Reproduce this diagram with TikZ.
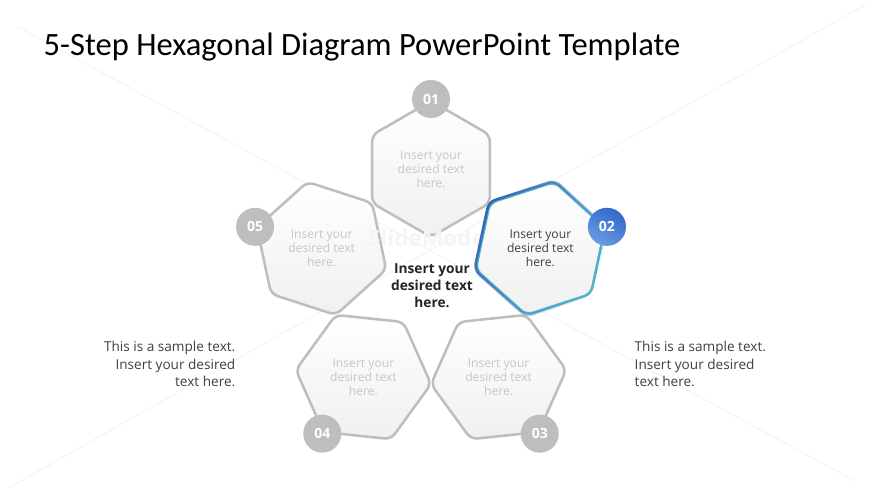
\documentclass[tikz,border=0pt]{standalone}
\usepackage{fontspec}
\setmainfont{Open Sans}
\newfontfamily\titlefont{Carlito}
\usetikzlibrary{positioning,shapes.geometric,fadings}

\definecolor{hexline}{HTML}{BEBEBE}
\definecolor{hextext}{HTML}{C6C6C6}
\definecolor{darktext}{HTML}{404040}
\definecolor{stepblue}{HTML}{3460B4}
\definecolor{stepteal}{HTML}{4FB4CC}
\definecolor{numblue}{HTML}{3368CC}
\definecolor{numlight}{HTML}{6A9BE4}
\tikzfading[name=fadeblue, left color=transparent!0, right color=transparent!100]

\begin{document}
\begin{tikzpicture}[
  x=0.75pt, y=0.75pt,
  hexgray/.style={regular polygon, regular polygon sides=6, minimum size=102pt,
    inner sep=0pt, draw=hexline, line width=1.9pt, rounded corners=5pt,
    top color=white, bottom color=black!6, text=hextext, align=center,
    font=\fontsize{9.1pt}{10.6pt}\selectfont},
  hexblue/.style={hexgray, draw=stepteal, text=darktext},
  stepnum/.style={circle, fill=hexline, minimum size=28.5pt, inner sep=0pt,
    text=white, font=\bfseries\fontsize{10.5pt}{12pt}\selectfont},
  sidetext/.style={text=darktext, font=\fontsize{10.2pt}{13.1pt}\selectfont},
  ]
  \useasboundingbox[fill=white] (0,0) rectangle (870,489);
  % faint backdrop
  \path[draw=black!5, line width=0.6pt]
  (865,484) -- (10,2)
  (18,462) -- (855,8);

  \node[anchor=base west, font=\titlefont\fontsize{24.4pt}{28pt}\selectfont]
    (title) at (39,433) {5-Step Hexagonal Diagram PowerPoint Template};

  \coordinate (ring) at (431,205);
  \node[hexgray, shape border rotate=90]   (hexA) at ([shift={(90:115)}]ring)   {Insert your\\desired text\\here.};
  \node[hexgray, shape border rotate=-54]  (hexC) at ([shift={(-54:115)}]ring)  {Insert your\\desired text\\here.};
  \node[hexgray, shape border rotate=-126] (hexD) at ([shift={(-126:115)}]ring) {Insert your\\desired text\\here.};
  \node[hexgray, shape border rotate=162]  (hexE) at ([shift={(162:115)}]ring)  {Insert your\\desired text\\here.};

  \node[text=black!4, inner sep=0pt, font=\bfseries\fontsize{17pt}{19pt}\selectfont] (mark) at (430,251) {SlideModel};

  \node[hexblue, shape border rotate=18]   (hexB) at ([shift={(18:115)}]ring)   {Insert your\\desired text\\here.};
  \path[draw=stepblue, line width=1.9pt, rounded corners=5pt,
    path fading=fadeblue, fading angle=-30]
  (hexB.corner 1) -- (hexB.corner 2) -- (hexB.corner 3) -- (hexB.corner 4)
  -- (hexB.corner 5) -- (hexB.corner 6) -- cycle;

  \node[stepnum] (numA) at ([shift={(90:70)}]hexA)   {01};
  \node[stepnum, left color=numblue, right color=numlight,
    shading angle=-30] (numB) at ([shift={(18:70)}]hexB) {02};
  \node[stepnum] (numC) at ([shift={(-54:70)}]hexC)  {03};
  \node[stepnum] (numD) at ([shift={(-126:70)}]hexD) {04};
  \node[stepnum] (numE) at ([shift={(162:70)}]hexE)  {05};

  \node[align=center, text=black!85, font=\bfseries\fontsize{10.3pt}{12.8pt}\selectfont]
    (core) at (432,203) {Insert your\\desired text\\here.};

  \node[sidetext, align=right, anchor=east] (noteL) at (240,125)
    {This is a sample text.\\Insert your desired\\text here.};
  \node[sidetext, align=left, anchor=west] (noteR) at (630,125)
    {This is a sample text.\\Insert your desired\\text here.};
\end{tikzpicture}
\end{document}
